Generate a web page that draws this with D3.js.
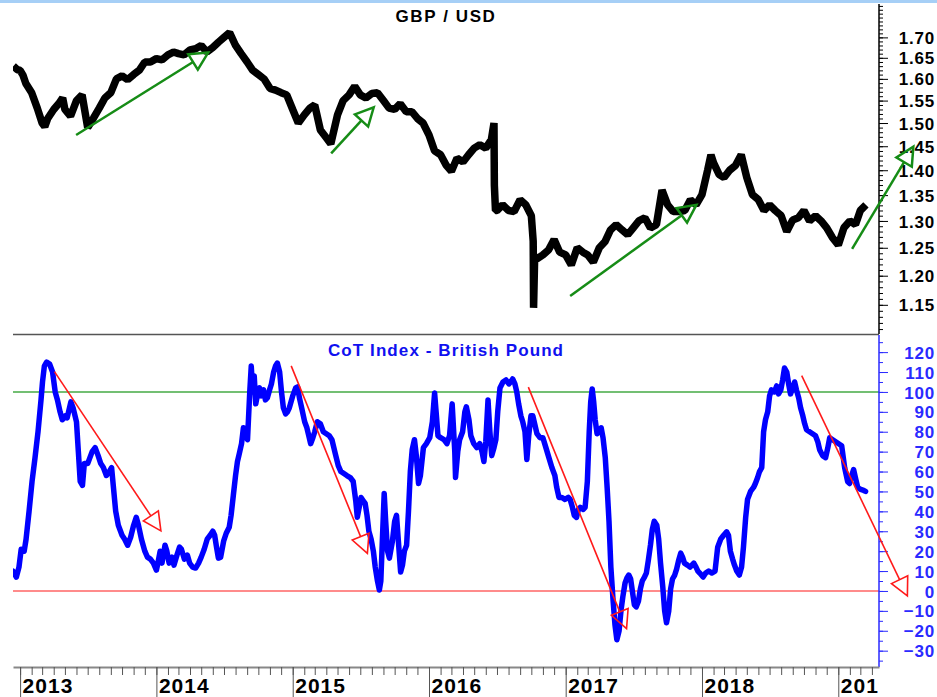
<!DOCTYPE html>
<html>
<head>
<meta charset="utf-8">
<script src="https://cdn.jsdelivr.net/npm/d3@7"></script>
<style>
  body { margin: 0; background: #fff; }
  svg { display: block; font-family: "Liberation Sans", Arial, sans-serif; }
</style>
</head>
<body>
<svg id="chart" width="937" height="697"></svg>
<script>
// ---- data ----
const gbpUsd = [
  ["2012-12-14",1.630],["2012-12-24",1.622],
  ["2013-01-01",1.620],["2013-01-09",1.608],["2013-01-16",1.590],["2013-02-01",1.568],["2013-02-16",1.533],
  ["2013-03-01",1.500],["2013-03-08",1.492],["2013-03-16",1.510],["2013-04-01",1.530],["2013-04-16",1.545],
  ["2013-04-25",1.556],["2013-05-01",1.530],["2013-05-16",1.515],["2013-06-01",1.550],["2013-06-16",1.563],
  ["2013-07-01",1.490],["2013-07-16",1.510],["2013-08-01",1.533],["2013-08-16",1.556],
  ["2013-09-01",1.568],["2013-09-16",1.600],["2013-10-01",1.607],["2013-10-16",1.598],
  ["2013-11-01",1.610],["2013-11-16",1.620],["2013-12-01",1.640],["2013-12-16",1.640],
  ["2014-01-01",1.648],["2014-01-16",1.645],["2014-02-01",1.657],["2014-02-16",1.664],
  ["2014-03-01",1.660],["2014-03-16",1.657],["2014-04-01",1.669],["2014-04-16",1.672],
  ["2014-05-01",1.680],["2014-05-16",1.664],["2014-06-01",1.675],["2014-06-16",1.688],
  ["2014-07-01",1.700],["2014-07-16",1.712],["2014-08-01",1.680],["2014-08-16",1.660],
  ["2014-09-01",1.640],["2014-09-16",1.620],["2014-10-01",1.610],["2014-10-16",1.600],
  ["2014-11-01",1.578],["2014-11-16",1.574],["2014-12-01",1.568],["2014-12-16",1.563],
  ["2015-01-01",1.530],["2015-01-16",1.500],["2015-02-01",1.518],["2015-02-16",1.533],
  ["2015-03-01",1.540],["2015-03-16",1.485],["2015-04-01",1.468],["2015-04-13",1.455],
  ["2015-05-01",1.518],["2015-05-16",1.550],["2015-06-01",1.563],["2015-06-16",1.583],
  ["2015-07-01",1.563],["2015-07-16",1.556],["2015-08-01",1.566],["2015-08-16",1.568],
  ["2015-09-01",1.550],["2015-09-16",1.533],["2015-10-01",1.530],["2015-10-16",1.543],
  ["2015-11-01",1.525],["2015-11-16",1.525],["2015-12-01",1.510],["2015-12-16",1.500],
  ["2016-01-01",1.474],["2016-01-16",1.440],["2016-02-01",1.432],["2016-02-16",1.410],
  ["2016-03-01",1.398],["2016-03-16",1.425],["2016-04-01",1.417],["2016-04-16",1.432],
  ["2016-05-01",1.446],["2016-05-16",1.453],["2016-06-01",1.446],["2016-06-16",1.464],
  ["2016-06-23",1.500],["2016-06-24",1.370],["2016-06-27",1.320],
  ["2016-07-01",1.320],["2016-07-16",1.331],["2016-08-01",1.320],["2016-08-16",1.318],
  ["2016-09-01",1.341],["2016-09-16",1.331],["2016-10-01",1.310],["2016-10-06",1.262],
  ["2016-10-07",1.145],["2016-10-10",1.235],["2016-10-16",1.230],
  ["2016-11-01",1.237],["2016-11-16",1.246],["2016-12-01",1.265],["2016-12-16",1.242],
  ["2017-01-01",1.237],["2017-01-16",1.219],["2017-02-01",1.250],["2017-02-16",1.242],
  ["2017-03-01",1.237],["2017-03-16",1.224],["2017-04-01",1.250],["2017-04-16",1.261],
  ["2017-05-01",1.283],["2017-05-16",1.293],["2017-06-01",1.283],["2017-06-16",1.274],
  ["2017-07-01",1.287],["2017-07-16",1.300],["2017-08-01",1.306],["2017-08-16",1.287],
  ["2017-09-01",1.293],["2017-09-16",1.360],["2017-10-01",1.331],["2017-10-16",1.318],
  ["2017-11-01",1.318],["2017-11-16",1.320],["2017-12-01",1.341],["2017-12-16",1.331],
  ["2018-01-01",1.351],["2018-01-16",1.400],["2018-01-25",1.432],["2018-02-01",1.415],["2018-02-16",1.391],
  ["2018-03-01",1.385],["2018-03-16",1.400],["2018-04-01",1.410],["2018-04-16",1.432],
  ["2018-05-01",1.385],["2018-05-16",1.351],["2018-06-01",1.341],["2018-06-16",1.320],
  ["2018-07-01",1.331],["2018-07-16",1.320],["2018-08-01",1.310],["2018-08-16",1.280],
  ["2018-09-01",1.302],["2018-09-16",1.306],["2018-10-01",1.320],["2018-10-16",1.300],
  ["2018-11-01",1.310],["2018-11-16",1.300],["2018-12-01",1.287],["2018-12-16",1.269],
  ["2019-01-01",1.255],["2019-01-16",1.287],["2019-02-01",1.300],["2019-02-16",1.293],
  ["2019-03-01",1.320],["2019-03-16",1.331]
];

const cotIndex = [
  ["2012-12-13",10],["2012-12-22",7],["2012-12-29",12],["2013-01-04",21],["2013-01-12",20],
  ["2013-01-17",26],["2013-01-25",40],["2013-02-02",55],["2013-02-10",67],["2013-02-18",80],
  ["2013-02-26",96],["2013-03-02",105],["2013-03-07",113],["2013-03-13",115],["2013-03-21",114],
  ["2013-03-29",110],["2013-04-05",100],["2013-04-11",96],["2013-04-18",90],["2013-04-24",86],
  ["2013-05-02",88],["2013-05-07",87],["2013-05-17",95],["2013-05-23",92],["2013-06-01",85],
  ["2013-06-06",70],["2013-06-11",55],["2013-06-17",53],["2013-06-22",64],["2013-07-01",64],
  ["2013-07-05",66],["2013-07-13",70],["2013-07-21",72],["2013-07-29",68],["2013-08-05",64],
  ["2013-08-12",62],["2013-08-20",58],["2013-08-28",60],["2013-09-03",62],["2013-09-08",52],
  ["2013-09-14",40],["2013-09-21",33],["2013-10-01",28],["2013-10-08",26],["2013-10-16",23],
  ["2013-10-24",27],["2013-11-01",33],["2013-11-08",37],["2013-11-14",33],["2013-11-22",26],
  ["2013-12-01",20],["2013-12-08",17],["2013-12-16",16],["2013-12-24",14],["2014-01-01",10.5],
  ["2014-01-05",14],["2014-01-11",20],["2014-01-16",14],["2014-01-24",23],["2014-01-29",20],
  ["2014-02-04",14],["2014-02-12",17],["2014-02-17",13],["2014-02-25",18],["2014-03-04",22],
  ["2014-03-09",21],["2014-03-17",16],["2014-03-25",18],["2014-03-31",14],["2014-04-08",12],
  ["2014-04-16",11.5],["2014-04-24",14],["2014-05-01",17],["2014-05-09",21],["2014-05-17",26],
  ["2014-05-25",28],["2014-06-01",30],["2014-06-06",28],["2014-06-11",22],["2014-06-16",16.5],
  ["2014-06-22",17],["2014-06-30",25],["2014-07-07",29],["2014-07-15",32],["2014-07-20",38],
  ["2014-07-26",48],["2014-08-01",58],["2014-08-06",65],["2014-08-11",69],["2014-08-17",74],
  ["2014-08-22",82],["2014-08-28",78],["2014-09-02",76],["2014-09-08",100],["2014-09-12",113],
  ["2014-09-16",100],["2014-09-20",108],["2014-09-24",94],["2014-09-30",100],["2014-10-04",102],
  ["2014-10-09",98],["2014-10-15",101],["2014-10-20",96],["2014-10-25",97],["2014-10-31",101],
  ["2014-11-05",104],["2014-11-11",110],["2014-11-16",113],["2014-11-21",114.5],["2014-11-27",110],
  ["2014-12-02",100],["2014-12-07",92],["2014-12-13",89],["2014-12-18",90],["2014-12-23",92],
  ["2015-01-01",98],["2015-01-09",102],["2015-01-14",102.5],["2015-01-19",97],["2015-01-25",92],
  ["2015-02-02",85],["2015-02-08",82],["2015-02-13",78],["2015-02-18",74],["2015-02-24",77],
  ["2015-03-01",80],["2015-03-08",85],["2015-03-16",84],["2015-03-24",80],["2015-04-01",79],
  ["2015-04-09",78],["2015-04-16",76],["2015-04-25",69],["2015-05-03",63],["2015-05-10",60],
  ["2015-05-18",59],["2015-05-26",58],["2015-06-04",57],["2015-06-12",55],["2015-06-19",45],
  ["2015-06-23",37],["2015-06-28",42],["2015-07-03",47],["2015-07-10",45],["2015-07-14",44],
  ["2015-07-19",38],["2015-07-24",30],["2015-07-30",26],["2015-08-05",20],["2015-08-10",12],
  ["2015-08-16",5],["2015-08-21",0.5],["2015-08-25",5],["2015-08-29",25],["2015-09-03",49],
  ["2015-09-07",35],["2015-09-12",20],["2015-09-17",16.5],["2015-09-25",25],["2015-10-01",35],
  ["2015-10-06",38],["2015-10-11",25],["2015-10-17",9.5],["2015-10-22",13],["2015-10-27",20],
  ["2015-11-02",23],["2015-11-07",40],["2015-11-12",60],["2015-11-17",71],["2015-11-23",76],
  ["2015-11-28",68],["2015-12-04",54],["2015-12-09",58],["2015-12-17",72],["2015-12-25",74],
  ["2016-01-03",77],["2016-01-10",85],["2016-01-16",99.5],["2016-01-20",90],["2016-01-25",78],
  ["2016-02-01",77],["2016-02-10",76],["2016-02-18",74],["2016-02-25",78],["2016-03-03",94],
  ["2016-03-10",70],["2016-03-12",57],["2016-03-18",70],["2016-03-23",76],["2016-03-31",80],
  ["2016-04-06",90],["2016-04-10",92.5],["2016-04-17",86],["2016-04-22",78],["2016-04-30",74],
  ["2016-05-08",72],["2016-05-16",74],["2016-05-22",70],["2016-05-27",65],["2016-06-01",75],
  ["2016-06-07",96],["2016-06-12",80],["2016-06-17",68],["2016-06-23",72],["2016-06-28",76],
  ["2016-07-03",90],["2016-07-09",102],["2016-07-17",105],["2016-07-25",106],["2016-08-02",104],
  ["2016-08-07",105],["2016-08-12",106.5],["2016-08-18",104],["2016-08-23",100],["2016-08-28",94],
  ["2016-09-03",88],["2016-09-08",85],["2016-09-14",80],["2016-09-19",66],["2016-09-24",78],
  ["2016-09-30",88],["2016-10-05",88],["2016-10-10",84],["2016-10-16",79],["2016-10-24",77],
  ["2016-11-01",77],["2016-11-09",72],["2016-11-17",67],["2016-11-25",62],["2016-12-03",58],
  ["2016-12-08",52],["2016-12-14",47],["2016-12-22",47],["2016-12-30",46],["2017-01-08",47],
  ["2017-01-13",46],["2017-01-19",42],["2017-01-24",38],["2017-01-30",37],["2017-02-04",41],
  ["2017-02-09",42],["2017-02-17",41],["2017-02-22",42],["2017-02-28",55],["2017-03-05",80],
  ["2017-03-09",95],["2017-03-13",101.5],["2017-03-17",95],["2017-03-21",86],["2017-03-26",79],
  ["2017-04-01",80],["2017-04-06",82],["2017-04-11",77],["2017-04-17",67],["2017-04-22",52],
  ["2017-04-27",35],["2017-05-02",12],["2017-05-08",-5],["2017-05-13",-17],["2017-05-18",-24.5],
  ["2017-05-24",-20],["2017-05-29",-10],["2017-06-03",-3],["2017-06-09",4],["2017-06-14",6.5],
  ["2017-06-19",8],["2017-06-24",6],["2017-06-30",-2],["2017-07-04",-7],["2017-07-09",-8],
  ["2017-07-15",-5],["2017-07-20",1],["2017-07-25",5],["2017-07-31",7],["2017-08-05",9],
  ["2017-08-10",15],["2017-08-16",23],["2017-08-21",31],["2017-08-26",35],["2017-09-02",33],
  ["2017-09-07",26],["2017-09-12",14],["2017-09-18",2],["2017-09-23",-10],["2017-09-28",-16],
  ["2017-10-04",-10],["2017-10-09",1],["2017-10-14",6],["2017-10-20",8],["2017-10-25",11],
  ["2017-10-30",15],["2017-11-05",19],["2017-11-10",17],["2017-11-15",14],["2017-11-23",13],
  ["2017-11-30",12],["2017-12-05",13],["2017-12-10",14],["2017-12-16",12],["2017-12-21",10],
  ["2017-12-26",9],["2018-01-04",7],["2018-01-11",9],["2018-01-19",10],["2018-01-27",9],
  ["2018-02-05",10],["2018-02-12",22],["2018-02-20",26],["2018-02-28",28],["2018-03-08",29.7],
  ["2018-03-13",28],["2018-03-18",20],["2018-03-24",16],["2018-03-29",13],["2018-04-04",10],
  ["2018-04-11",8],["2018-04-17",12],["2018-04-22",22],["2018-04-28",37],["2018-05-03",46],
  ["2018-05-11",50],["2018-05-19",52],["2018-05-24",54],["2018-05-30",57],["2018-06-04",60],
  ["2018-06-10",62],["2018-06-15",80],["2018-06-20",86],["2018-06-26",90],["2018-07-01",98],
  ["2018-07-06",101],["2018-07-14",100],["2018-07-20",103],["2018-07-25",99],["2018-07-31",101],
  ["2018-08-05",106],["2018-08-10",112],["2018-08-16",110],["2018-08-21",104],["2018-08-26",99],
  ["2018-09-01",102],["2018-09-06",105],["2018-09-11",101],["2018-09-17",97],["2018-09-22",92],
  ["2018-09-28",88],["2018-10-03",84],["2018-10-08",81],["2018-10-16",80],["2018-10-24",79],
  ["2018-11-01",78],["2018-11-07",75],["2018-11-12",71],["2018-11-20",68],["2018-11-28",67],
  ["2018-12-04",72],["2018-12-09",77],["2018-12-17",76],["2018-12-25",75],["2019-01-02",74],
  ["2019-01-10",73],["2019-01-18",62],["2019-01-26",55],["2019-01-31",54],["2019-02-06",58],
  ["2019-02-11",61],["2019-02-17",56],["2019-02-22",52],["2019-03-02",51],["2019-03-10",50.5],
  ["2019-03-15",50]
];

const priceTicks = [1.15, 1.20, 1.25, 1.30, 1.35, 1.40, 1.45, 1.50, 1.55, 1.60, 1.65, 1.70];
const cotTicks   = [-30, -20, -10, 0, 10, 20, 30, 40, 50, 60, 70, 80, 90, 100, 110, 120];
const yearTicks  = ["2013-01-01","2014-01-01","2015-01-01","2016-01-01","2017-01-01","2018-01-01","2019-01-01"];
const cotLevels  = [{ value: 100, color: "#44aa44" }, { value: 0, color: "#ff6464" }];

// hand-drawn trend arrows: [date, value] start -> end
const priceArrows = [
  { from: ["2013-05-31", 1.474], to: ["2014-05-20", 1.663] },
  { from: ["2015-04-14", 1.435], to: ["2015-08-06", 1.535] },
  { from: ["2017-01-13", 1.165], to: ["2017-12-17", 1.331] },
  { from: ["2019-02-07", 1.248], to: ["2019-07-21", 1.449] }
];
const cotArrows = [
  { from: ["2013-04-03", 110.2], to: ["2014-01-13", 30.2] },
  { from: ["2014-12-28", 113.1], to: ["2015-07-20", 18.9] },
  { from: ["2016-09-23", 102.4], to: ["2017-06-13", -18.9] },
  { from: ["2018-09-25", 108.2], to: ["2019-07-05", -2.5] }
];

// ---- layout ----
const parse = d3.timeParse("%Y-%m-%d");
const svg = d3.select("#chart");
const plotLeft = 13, plotRight = 879;
const topPanel = { y0: 4, y1: 334 };
const botPanel = { y0: 335, y1: 667 };

const x = d3.scaleTime()
  .domain([parse("2012-12-13"), parse("2019-04-20")])
  .range([plotLeft, plotRight]);

const yPrice = d3.scaleLog()
  .domain([1.102, 1.785])
  .range([topPanel.y1, topPanel.y0]);

const yCot = d3.scaleLinear()
  .domain([-38.2, 128.6])
  .range([botPanel.y1, botPanel.y0]);

// thin light-blue strip on top
svg.append("rect").attr("x", 0).attr("y", 0).attr("width", 937).attr("height", 3).attr("fill", "#a6cff6");

const defs = svg.append("defs");
defs.append("clipPath").attr("id", "clipTop").append("rect")
  .attr("x", plotLeft).attr("y", topPanel.y0).attr("width", plotRight - plotLeft).attr("height", topPanel.y1 - topPanel.y0);
defs.append("clipPath").attr("id", "clipBot").append("rect")
  .attr("x", plotLeft).attr("y", botPanel.y0).attr("width", plotRight - plotLeft).attr("height", botPanel.y1 - botPanel.y0);
defs.append("clipPath").attr("id", "clipYears").append("rect")
  .attr("x", 0).attr("y", 0).attr("width", plotRight).attr("height", 40);

// panel separator
svg.append("line")
  .attr("x1", plotLeft).attr("x2", plotRight)
  .attr("y1", 334.5).attr("y2", 334.5)
  .attr("stroke", "#555").attr("stroke-width", 1.5);

// reference levels on CoT panel
svg.append("g").selectAll("line")
  .data(cotLevels)
  .join("line")
    .attr("x1", plotLeft).attr("x2", plotRight)
    .attr("y1", d => yCot(d.value)).attr("y2", d => yCot(d.value))
    .attr("stroke", d => d.color).attr("stroke-width", 1.5);

// ---- series ----
const priceLine = d3.line()
  .x(d => x(parse(d[0])))
  .y(d => yPrice(d[1]));

svg.append("path")
  .datum(gbpUsd)
  .attr("clip-path", "url(#clipTop)")
  .attr("d", priceLine)
  .attr("fill", "none")
  .attr("stroke", "#000")
  .attr("stroke-width", 7.5)
  .attr("stroke-linejoin", "bevel");

const cotLine = d3.line()
  .x(d => x(parse(d[0])))
  .y(d => yCot(d[1]));

svg.append("path")
  .datum(cotIndex)
  .attr("clip-path", "url(#clipBot)")
  .attr("d", cotLine)
  .attr("fill", "none")
  .attr("stroke", "#0000ff")
  .attr("stroke-width", 5.5)
  .attr("stroke-linejoin", "round")
  .attr("stroke-linecap", "round");

// ---- titles ----
svg.append("text")
  .attr("x", 446).attr("y", 22)
  .attr("text-anchor", "middle")
  .style("font-size", "17px").style("font-weight", "bold")
  .style("letter-spacing", "1.6px")
  .attr("fill", "#000")
  .text("GBP / USD");

svg.append("text")
  .attr("x", 446).attr("y", 356)
  .attr("text-anchor", "middle")
  .style("font-size", "17px").style("font-weight", "bold")
  .style("letter-spacing", "1.1px")
  .attr("fill", "#1010f0")
  .text("CoT Index - British Pound");

// ---- right axes ----
function rightAxis(scale, ticks, minor, color, fmt, y0, y1) {
  const g = svg.append("g").attr("transform", `translate(${plotRight},0)`);
  g.append("line").attr("y1", y0).attr("y2", y1)
    .attr("stroke", color).attr("stroke-width", 1.5);
  g.append("g").call(d3.axisRight(scale).tickValues(minor).tickSize(4).tickFormat(""))
    .call(s => s.select(".domain").remove())
    .selectAll("line").attr("stroke", color);
  const major = g.append("g").call(d3.axisRight(scale).tickValues(ticks).tickSize(9).tickFormat(fmt));
  major.select(".domain").remove();
  major.selectAll("line").attr("stroke", color);
  major.selectAll("text")
    .attr("x", 56).attr("dy", "0.36em")
    .attr("text-anchor", "end")
    .attr("fill", color)
    .style("font-family", '"Liberation Sans", Arial, sans-serif')
    .style("font-size", "17px").style("font-weight", "bold")
    .style("letter-spacing", "0.8px");
  return g;
}

rightAxis(yPrice, priceTicks, d3.range(111, 179).map(v => v / 100), "#000", d3.format(".2f"), topPanel.y0, topPanel.y1);
rightAxis(yCot, cotTicks, d3.range(-35, 130, 5), "#2a2aff", d3.format("d"), botPanel.y0, botPanel.y1);

// ---- time axis ----
const xg = svg.append("g").attr("transform", `translate(0,${botPanel.y1})`);
xg.append("g")
  .call(d3.axisBottom(x).ticks(d3.timeMonth.every(1)).tickSize(8).tickSizeOuter(0).tickFormat(""))
  .call(s => s.select(".domain").attr("stroke", "#888").attr("stroke-width", 2))
  .selectAll(".tick line").attr("stroke", "#555");

const years = xg.append("g")
  .attr("clip-path", "url(#clipYears)")
  .call(d3.axisBottom(x).tickValues(yearTicks.map(parse)).tickSize(30).tickSizeOuter(0).tickFormat(d3.timeFormat("%Y")));
years.select(".domain").remove();
years.selectAll(".tick line").attr("stroke", "#555");
years.selectAll("text")
  .attr("x", 2).attr("y", 26).attr("dy", 0)
  .attr("text-anchor", "start")
  .attr("fill", "#000")
  .style("font-family", '"Liberation Sans", Arial, sans-serif')
  .style("font-size", "21px").style("font-weight", "bold")
  .style("letter-spacing", "1px");

// ---- arrows ----
function arrows(list, yScale, color, width) {
  const g = svg.append("g");
  list.forEach(a => {
    const x1 = x(parse(a.from[0])), y1 = yScale(a.from[1]);
    const x2 = x(parse(a.to[0])),   y2 = yScale(a.to[1]);
    const len = Math.hypot(x2 - x1, y2 - y1);
    const ux = (x2 - x1) / len, uy = (y2 - y1) / len;
    const headLen = 18, half = 9;
    const bx = x2 - ux * headLen, by = y2 - uy * headLen;
    g.append("line")
      .attr("x1", x1).attr("y1", y1).attr("x2", bx).attr("y2", by)
      .attr("stroke", color).attr("stroke-width", width);
    g.append("path")
      .attr("d", `M${x2},${y2}L${bx - uy * half},${by + ux * half}L${bx + uy * half},${by - ux * half}Z`)
      .attr("fill", "none")
      .attr("stroke", color).attr("stroke-width", width)
      .attr("stroke-linejoin", "miter");
  });
}

arrows(priceArrows, yPrice, "#168c16", 2.5);
arrows(cotArrows, yCot, "#ff1a1a", 1.6);
</script>
</body>
</html>
